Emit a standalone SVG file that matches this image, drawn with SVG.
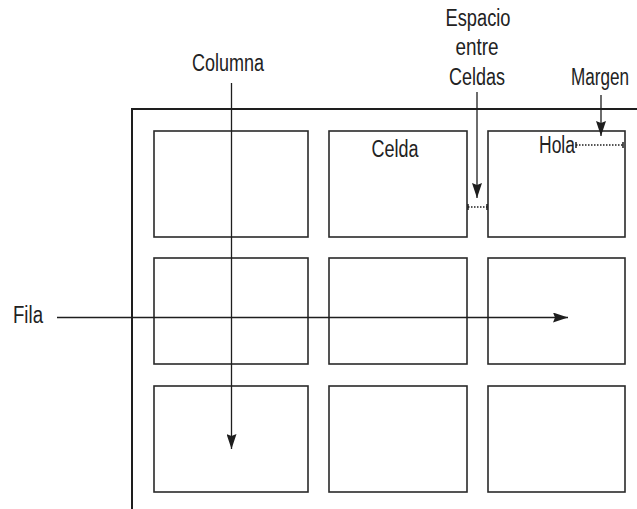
<svg xmlns="http://www.w3.org/2000/svg" width="637" height="509" viewBox="0 0 637 509">
<style>
.cell{fill:none;stroke:#2a2a2a;stroke-width:1.6}
.frame{fill:none;stroke:#1e1e1e;stroke-width:2}
.t{font-family:"Liberation Sans Narrow","Liberation Sans",Arial,sans-serif;font-size:23px;fill:#222}
.ln{stroke:#1e1e1e;stroke-width:1.3;fill:none}
.dot{stroke:#1e1e1e;stroke-width:1.3;stroke-dasharray:1.5 1.5;fill:none}
.tick{stroke:#1e1e1e;stroke-width:1.5}
</style>
<defs>
<marker id="ah" viewBox="0 0 15 10" refX="15" refY="5" markerWidth="15" markerHeight="10" markerUnits="userSpaceOnUse" orient="auto">
<path d="M0,0 L15,5 L0,10 L2,5 Z" fill="#1e1e1e"/>
</marker>
</defs>
<rect width="637" height="509" fill="#fff"/>
<g id="frame">
<path class="frame" d="M132,509 V109 H637"/>
</g>
<g id="cell-1-1"><rect class="cell" x="154" y="131" width="154" height="106"/></g>
<g id="cell-1-2"><rect class="cell" x="329" y="131" width="138" height="106"/><text class="t" x="395" y="157" text-anchor="middle" textLength="47" lengthAdjust="spacingAndGlyphs">Celda</text></g>
<g id="cell-1-3"><rect class="cell" x="488" y="131" width="137" height="106"/><text class="t" x="539" y="153" textLength="36" lengthAdjust="spacingAndGlyphs">Hola</text></g>
<g id="cell-2-1"><rect class="cell" x="154" y="258" width="154" height="106"/></g>
<g id="cell-2-2"><rect class="cell" x="329" y="258" width="138" height="106"/></g>
<g id="cell-2-3"><rect class="cell" x="488" y="258" width="137" height="106"/></g>
<g id="cell-3-1"><rect class="cell" x="154" y="386" width="154" height="106"/></g>
<g id="cell-3-2"><rect class="cell" x="329" y="386" width="138" height="106"/></g>
<g id="cell-3-3"><rect class="cell" x="488" y="386" width="137" height="106"/></g>
<g id="label-columna"><text class="t" x="228" y="71" text-anchor="middle" textLength="72" lengthAdjust="spacingAndGlyphs">Columna</text></g>
<g id="label-espacio">
<text class="t" x="478" y="26" text-anchor="middle" textLength="65" lengthAdjust="spacingAndGlyphs">Espacio</text>
<text class="t" x="477" y="55" text-anchor="middle" textLength="43" lengthAdjust="spacingAndGlyphs">entre</text>
<text class="t" x="477" y="85" text-anchor="middle" textLength="56" lengthAdjust="spacingAndGlyphs">Celdas</text>
</g>
<g id="label-margen"><text class="t" x="600" y="85" text-anchor="middle" textLength="58" lengthAdjust="spacingAndGlyphs">Margen</text></g>
<g id="label-fila"><text class="t" x="13" y="323" textLength="30" lengthAdjust="spacingAndGlyphs">Fila</text></g>
<g id="connectors">
<line class="ln" x1="231.5" y1="83" x2="231.5" y2="449" marker-end="url(#ah)"/>
<line class="ln" x1="57" y1="317.5" x2="568" y2="317.5" marker-end="url(#ah)"/>
<line class="ln" x1="477" y1="92" x2="477" y2="198" marker-end="url(#ah)"/>
<line class="ln" x1="601" y1="95" x2="601" y2="136" marker-end="url(#ah)"/>
<line class="dot" x1="468" y1="207" x2="487" y2="207"/>
<line class="tick" x1="468" y1="204" x2="468" y2="210"/>
<line class="tick" x1="487" y1="204" x2="487" y2="210"/>
<line class="dot" x1="576" y1="145" x2="623" y2="145"/>
<line class="tick" x1="576" y1="142" x2="576" y2="148"/>
<line class="tick" x1="623" y1="142" x2="623" y2="148"/>
</g>
</svg>
